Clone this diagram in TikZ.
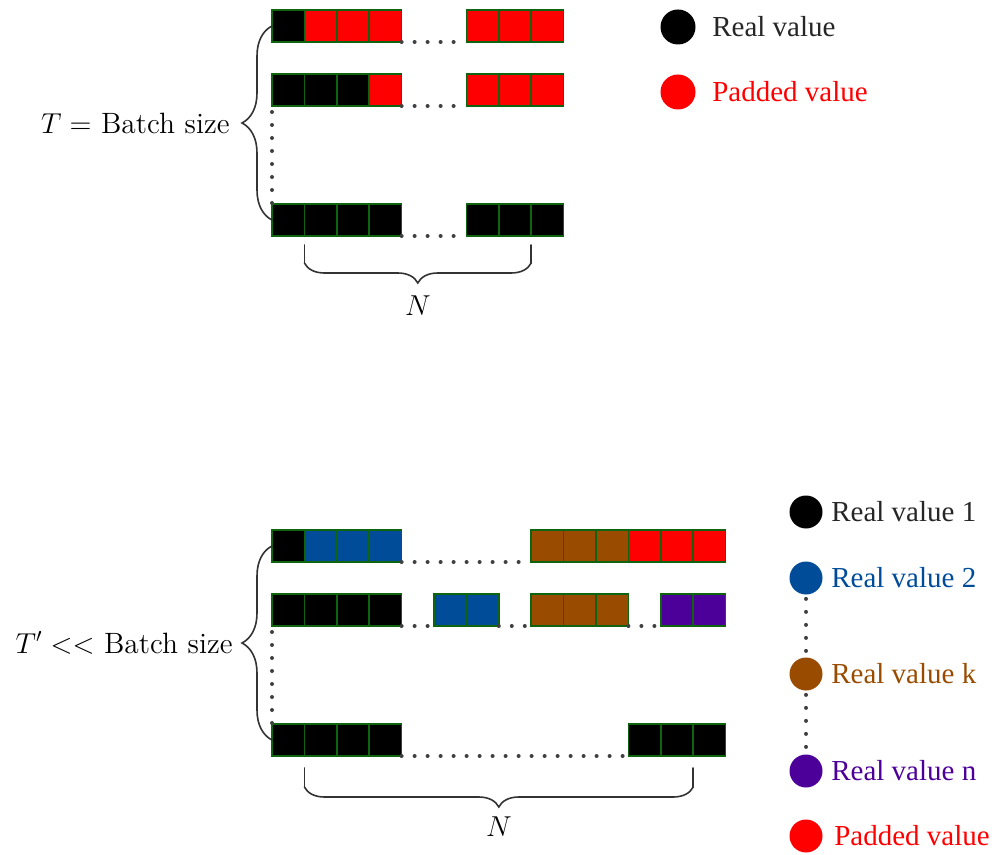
\documentclass[tikz,border=0pt]{standalone}
\usepackage{fontspec}
\usepackage{tikz}
\usetikzlibrary{positioning, calc, decorations.pathreplacing}

\newfontfamily\legendfont{Liberation Serif}

\definecolor{realone}{RGB}{0,0,0}
\definecolor{realtwo}{RGB}{0,76,153}
\definecolor{realk}{RGB}{153,76,0}
\definecolor{realn}{RGB}{76,0,153}
\definecolor{padded}{RGB}{255,0,0}
\definecolor{cellline}{RGB}{15,100,15}

\begin{document}
\begin{tikzpicture}[
    x=0.5pt, y=-0.5pt,
    cell/.style={rectangle, draw=cellline, line width=0.75pt, minimum width=16.2pt, minimum height=16pt, inner sep=0pt, outer sep=0pt, anchor=north west},
    gapdots/.style={black!75, line width=2pt, line cap=round, dash pattern=on 0pt off 6.5pt},
    bracepen/.style={black!80, line width=0.8pt, line cap=round},
    legdot/.style={circle, inner sep=0pt, minimum size=16.5pt},
    legtext/.style={font=\legendfont\fontsize{14.5}{17}\selectfont, inner sep=0pt},
    sizelabel/.style={font=\fontsize{14.7}{17}\selectfont, inner sep=0pt},
]
\useasboundingbox (0,0) rectangle (995,855);

% ---- padded batch ----
\foreach \c/\clr in {0/realone,1/padded,2/padded,3/padded,6/padded,7/padded,8/padded}
  \node[cell, fill=\clr] (t1-\c) at ({272+32.4*\c},10) {};
\foreach \c/\clr in {0/realone,1/realone,2/realone,3/padded,6/padded,7/padded,8/padded}
  \node[cell, fill=\clr] (t2-\c) at ({272+32.4*\c},74) {};
\foreach \c in {0,1,2,3,6,7,8}
  \node[cell, fill=realone] (t3-\c) at ({272+32.4*\c},204) {};

\foreach \r in {1,2,3}
  \draw[gapdots, shorten >=1pt] (t\r-3.south east) -- (t\r-6.south west);
\draw[gapdots, shorten <=3pt] (t2-0.south west) -- (t3-0.north west);

% batch brace
\draw[bracepen, decorate, decoration={brace, amplitude=15pt}] (t3-0.west) -- (t1-0.west);
\node[sizelabel, anchor=east] (tsize) at ($(t1-0.west)!0.5!(t3-0.west)+(-42,0)$) {$T=$ Batch size};

% width brace
\draw[bracepen] ($(t3-0.south east)+(0,9)$) -- ++(0,18) coordinate (nl);
\draw[bracepen] ($(t3-7.south east)+(0,9)$) -- ++(0,18) coordinate (nr);
\draw[bracepen, decorate, decoration={brace, mirror, amplitude=10pt}] (nl) -- (nr);
\node[sizelabel] (ntop) at ($(nl)!0.5!(nr)+(0,43)$) {$N$};

% legend
\node[legdot, minimum size=17.5pt, fill=realone] (real) at (678,27) {};
\node[legtext, right=8pt of real, text=black!85] (realtxt) {Real value};
\node[legdot, minimum size=17.5pt, fill=padded] (pad) at (678,92) {};
\node[legtext, right=8pt of pad, text=padded] (padtxt) {Padded value};

% ---- packed batch ----
\foreach \c/\clr in {0/realone,1/realtwo,2/realtwo,3/realtwo,8/realk,9/realk,10/realk,11/padded,12/padded,13/padded}
  \node[cell, fill=\clr] (b1-\c) at ({272+32.4*\c},530) {};
\foreach \c/\clr in {0/realone,1/realone,2/realone,3/realone,5/realtwo,6/realtwo,8/realk,9/realk,10/realk,12/realn,13/realn}
  \node[cell, fill=\clr] (b2-\c) at ({272+32.4*\c},594) {};
\foreach \c in {0,1,2,3,11,12,13}
  \node[cell, fill=realone] (b3-\c) at ({272+32.4*\c},724) {};

\draw[gapdots, shorten >=1pt] (b1-3.south east) -- (b1-8.south west);
\draw[gapdots, shorten >=1pt] (b2-3.south east) -- (b2-5.south west);
\draw[gapdots, shorten >=1pt] (b2-6.south east) -- (b2-8.south west);
\draw[gapdots, shorten >=1pt] (b2-10.south east) -- (b2-12.south west);
\draw[gapdots, shorten >=1pt] (b3-3.south east) -- (b3-11.south west);
\draw[gapdots, shorten <=3pt] (b2-0.south west) -- (b3-0.north west);

% batch brace
\draw[bracepen, decorate, decoration={brace, amplitude=15pt}] (b3-0.west) -- (b1-0.west);
\node[sizelabel, anchor=east] (tpsize) at ($(b1-0.west)!0.5!(b3-0.west)+(-39,0)$) {$T' <<$ Batch size};

% width brace
\draw[bracepen] ($(b3-0.south east)+(0,12)$) -- ++(0,19) coordinate (ml);
\draw[bracepen] ($(b3-12.south east)+(0,12)$) -- ++(0,19) coordinate (mr);
\draw[bracepen, decorate, decoration={brace, mirror, amplitude=10pt}] (ml) -- (mr);
\node[sizelabel] (nbot) at ($(ml)!0.5!(mr)+(0,40)$) {$N$};

% legend
\node[legdot, fill=realone] (k1) at (806,512) {};
\node[legtext, right=4pt of k1, text=black!85] (k1txt) {Real value 1};
\node[legdot, fill=realtwo] (k2) at (806,578) {};
\node[legtext, right=4pt of k2, text=realtwo] (k2txt) {Real value 2};
\node[legdot, fill=realk] (k3) at (806,674) {};
\node[legtext, right=4pt of k3, text=realk] (k3txt) {Real value k};
\node[legdot, fill=realn] (k4) at (806,771) {};
\node[legtext, right=4pt of k4, text=realn] (k4txt) {Real value n};
\node[legdot, fill=padded] (k5) at (806,836) {};
\node[legtext, right=5.5pt of k5, text=padded] (k5txt) {Padded value};

\draw[gapdots, shorten <=2pt, shorten >=2pt] (k2) -- (k3);
\draw[gapdots, shorten <=2pt, shorten >=2pt] (k3) -- (k4);
\end{tikzpicture}
\end{document}
